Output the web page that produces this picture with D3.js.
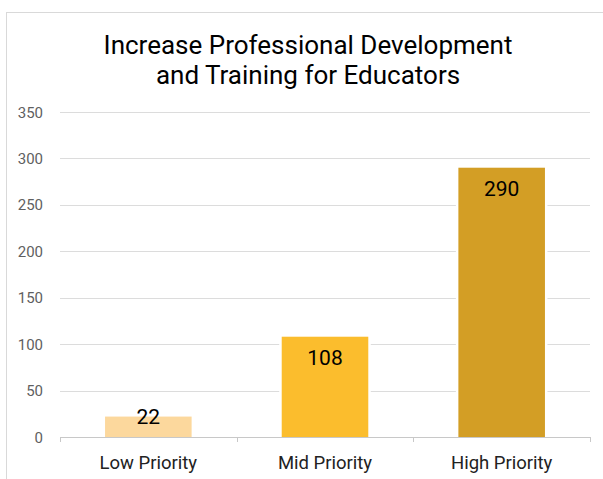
<!DOCTYPE html>
<html>
<head>
<meta charset="utf-8">
<script src="https://cdn.jsdelivr.net/npm/d3@7"></script>
<style>
    body { margin: 0; background: #fff; }
    svg { display: block; font-family: Roboto, "Noto Sans", sans-serif; }
</style>
</head>
<body>
<div id="chart"></div>
<script>
const categories = ["Low Priority", "Mid Priority", "High Priority"];
const values = [22, 108, 290];
const colors = ["#fcd89d", "#fbbd2d", "#d39e25"];
const yTicks = [0, 50, 100, 150, 200, 250, 300, 350];
const titleLines = ["Increase Professional Development", "and Training for Educators"];

const width = 603, height = 479;
const margin = { top: 112, right: 13, bottom: 42, left: 60 };

const svg = d3.select("#chart").append("svg")
    .attr("width", width)
    .attr("height", height);

// outer chart frame (cut off on the right and bottom)
svg.append("rect")
    .attr("x", 6.5).attr("y", 12.5)
    .attr("width", width).attr("height", height)
    .attr("fill", "none")
    .attr("stroke", "#d9d9d9");

svg.append("text")
    .attr("x", 308).attr("y", 54)
    .attr("text-anchor", "middle")
    .attr("font-size", 26)
    .attr("fill", "#000")
    .selectAll("tspan")
    .data(titleLines)
    .join("tspan")
        .attr("x", 308)
        .attr("dy", (d, i) => i === 0 ? 0 : 29.5)
        .text(d => d);

const x = d3.scaleBand()
    .domain(categories)
    .range([margin.left, width - margin.right])
    .paddingInner(0.51)
    .paddingOuter(0.255);

const y = d3.scaleLinear()
    .domain([0, 350])
    .range([height - margin.bottom, margin.top]);

// gridlines
svg.append("g")
    .selectAll("line")
    .data(yTicks.filter(d => d > 0))
    .join("line")
        .attr("x1", margin.left).attr("x2", width - margin.right)
        .attr("y1", d => Math.round(y(d)) + 0.5)
        .attr("y2", d => Math.round(y(d)) + 0.5)
        .attr("stroke", "#dcdcdc");

// y tick labels
svg.append("g")
    .selectAll("text")
    .data(yTicks)
    .join("text")
        .attr("x", 43)
        .attr("y", d => y(d) + 5.5)
        .attr("text-anchor", "end")
        .attr("font-size", 15)
        .attr("fill", "#5f5f5f")
        .text(d => d);

// bars, with a white outline that breaks the gridlines
svg.append("g")
    .selectAll("rect")
    .data(values)
    .join("rect")
        .attr("x", (d, i) => x(categories[i]))
        .attr("y", d => y(d))
        .attr("width", x.bandwidth())
        .attr("height", d => y(0) - y(d))
        .attr("fill", (d, i) => colors[i])
        .attr("stroke", "#fff")
        .attr("stroke-width", 5);

svg.append("g")
    .selectAll("rect")
    .data(values)
    .join("rect")
        .attr("x", (d, i) => x(categories[i]))
        .attr("y", d => y(d))
        .attr("width", x.bandwidth())
        .attr("height", d => y(0) - y(d))
        .attr("fill", (d, i) => colors[i]);

// x axis
const xAxis = svg.append("g")
    .attr("transform", `translate(0,${y(0)})`)
    .call(d3.axisBottom(x).tickSize(0).tickFormat(""));
xAxis.select(".domain").attr("stroke", "#c8c8c8");

const edges = [margin.left, ...categories.map(c => x(c) + x.bandwidth() + x.step() * x.paddingInner() / 2)];
edges[edges.length - 1] = width - margin.right;
svg.append("g")
    .selectAll("line")
    .data(edges)
    .join("line")
        .attr("x1", d => Math.round(d) + 0.5).attr("x2", d => Math.round(d) + 0.5)
        .attr("y1", y(0)).attr("y2", y(0) + 5)
        .attr("stroke", "#c8c8c8");

svg.append("g")
    .selectAll("text")
    .data(categories)
    .join("text")
        .attr("x", d => x(d) + x.bandwidth() / 2)
        .attr("y", y(0) + 32)
        .attr("text-anchor", "middle")
        .attr("font-size", 18.5)
        .attr("fill", "#222")
        .text(d => d);

// value labels
svg.append("g")
    .selectAll("text")
    .data(values)
    .join("text")
        .attr("x", (d, i) => x(categories[i]) + x.bandwidth() / 2)
        .attr("y", d => Math.min(y(d) + 28, y(0) - 13))
        .attr("text-anchor", "middle")
        .attr("font-size", 21)
        .attr("fill", "#000")
        .text(d => d);
</script>
</body>
</html>
